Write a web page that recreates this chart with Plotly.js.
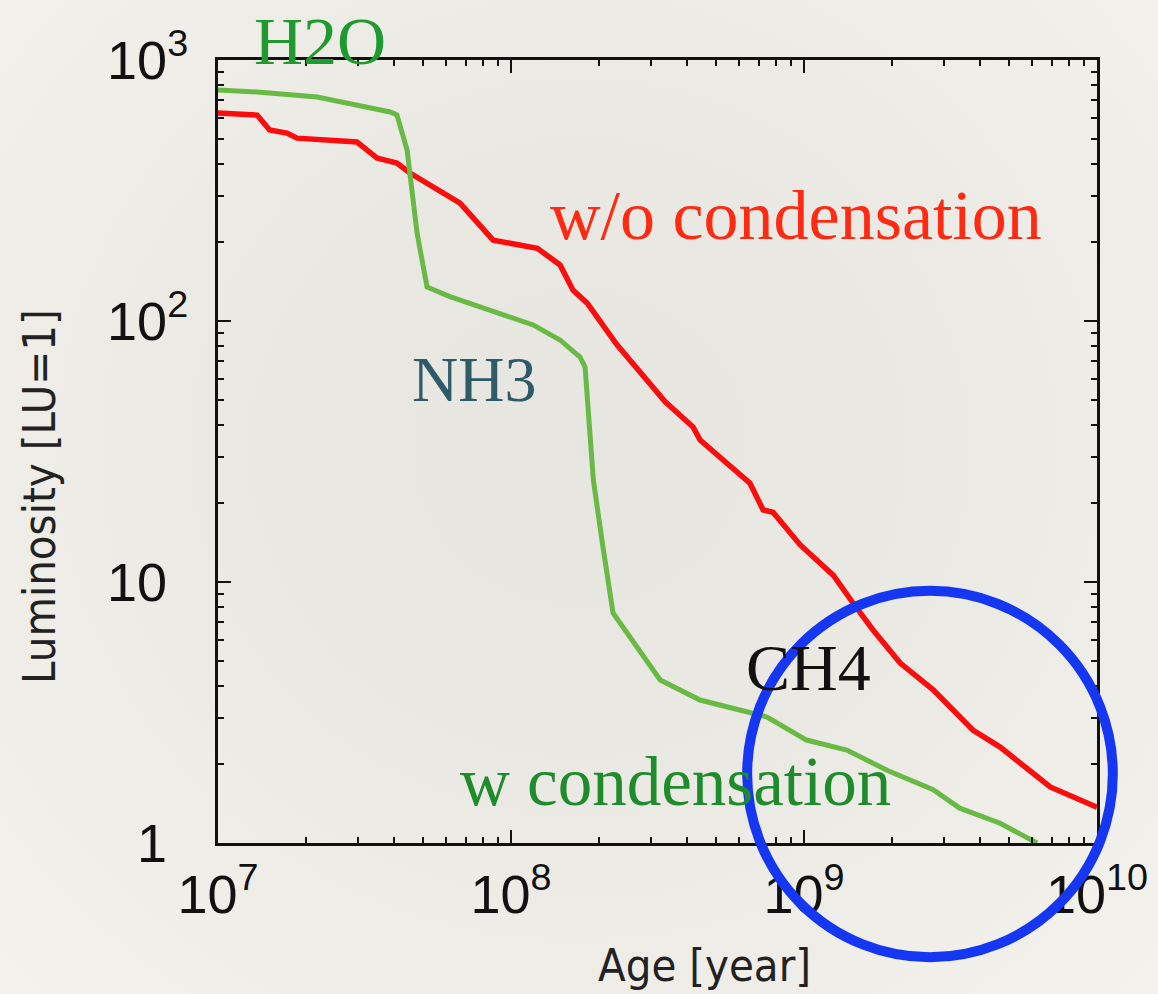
<!DOCTYPE html>
<html><head><meta charset="utf-8">
<script src="https://cdn.plot.ly/plotly-3.0.1.min.js"></script>
<style>
html,body{margin:0;padding:0;}
body{background:radial-gradient(ellipse at 50% 45%, #e7e5e0 0%, #ebe9e4 45%, #f4f2ec 100%);}
#chart{width:1158px;height:994px;}
</style>
</head><body><div id="chart"></div>
<script>
// Luminosity evolution without condensation (red)
const ageWithout = [1e7, 1.36e7, 1.50e7, 1.72e7, 1.86e7, 2.98e7, 3.49e7, 4.08e7, 4.52e7, 5.42e7, 6.70e7, 8.69e7, 1.23e8, 1.47e8, 1.63e8, 1.82e8, 2.30e8, 3.36e8, 4.18e8, 4.42e8, 6.54e8, 7.25e8, 7.84e8, 9.69e8, 1.26e9, 1.47e9, 1.72e9, 2.13e9, 2.76e9, 3.77e9, 4.67e9, 6.05e9, 6.92e9, 1e10];
const lumWithout = [627, 615, 539, 525, 502, 485, 421, 403, 369, 326, 283, 204, 190, 164, 131, 117, 81, 49, 39.3, 35, 23.9, 18.9, 18.5, 13.9, 10.6, 8.31, 6.55, 4.89, 3.86, 2.71, 2.33, 1.85, 1.64, 1.37];
// Luminosity evolution with condensation (green)
const ageWith = [1e7, 1.36e7, 2.18e7, 2.67e7, 3.87e7, 4.08e7, 4.42e7, 4.78e7, 5.17e7, 6.19e7, 9.17e7, 1.19e8, 1.47e8, 1.72e8, 1.79e8, 1.91e8, 2.06e8, 2.23e8, 3.23e8, 4.42e8, 7.48e8, 1.02e9, 1.40e9, 1.92e9, 2.76e9, 3.40e9, 4.67e9, 6.24e9];
const lumWith = [767, 754, 721, 690, 632, 616, 452, 217, 135, 124, 107, 96.6, 84.6, 72.8, 66.6, 24.6, 13.6, 7.61, 4.21, 3.53, 3.04, 2.48, 2.27, 1.90, 1.60, 1.36, 1.19, 1.0];

const xTickVals = [1e7, 1e8, 1e9, 1e10];
const xTickText = ['10<sup>7</sup>', '10<sup>8</sup>', '10<sup>9</sup>', '10<sup>10</sup>'];
const yTickVals = [1, 10, 100, 1000];
const yTickText = ['1<sup>\u2007</sup>', '10<sup>\u2007</sup>', '10<sup>2</sup>', '10<sup>3</sup>'];

const seriesNames = ['w/o condensation', 'w condensation'];
const labelTexts = ['H2O', 'w/o condensation', 'NH3', 'CH4', 'w condensation'];
const xTitle = 'Age [year]';
const yTitle = 'Luminosity [LU=1]';

const sansNarrow = '"Liberation Sans Narrow", "DejaVu Sans Condensed", "Liberation Sans", Arial, sans-serif';
const sans = '"Liberation Sans", Arial, sans-serif';
const serif = '"Liberation Serif", "DejaVu Serif", serif';

const traces = [
  {x: ageWithout, y: lumWithout, name: seriesNames[0], type: 'scatter', mode: 'lines',
   line: {color: '#fb0d0d', width: 5.5}},
  {x: ageWith, y: lumWith, name: seriesNames[1], type: 'scatter', mode: 'lines',
   line: {color: '#68ba45', width: 5}}
];

const axisCommon = {
  type: 'log', showline: true, linecolor: '#111', linewidth: 3, mirror: 'allticks',
  ticks: 'inside', ticklen: 13, tickwidth: 2.5, tickcolor: '#111',
  tickmode: 'array', showgrid: false, zeroline: false,
  tickfont: {family: sans, size: 54, color: '#111'},
  minor: {ticks: 'inside', ticklen: 6, tickwidth: 2, tickcolor: '#111', dtick: 'D1', showgrid: false}
};

function label(text, x, y, size, color) {
  return {text: text, xref: 'paper', yref: 'paper', x: x, y: y, xanchor: 'center', yanchor: 'middle',
          showarrow: false, font: {family: serif, size: size, color: color}};
}

const layout = {
  width: 1158, height: 994,
  margin: {l: 218, r: 61, t: 60, b: 151},
  paper_bgcolor: 'rgba(0,0,0,0)', plot_bgcolor: 'rgba(0,0,0,0)',
  showlegend: false,
  xaxis: Object.assign({}, axisCommon, {range: [7, 10], tickvals: xTickVals, ticktext: xTickText, ticklabelstandoff: 2}),
  yaxis: Object.assign({}, axisCommon, {range: [0, 3], tickvals: yTickVals, ticktext: yTickText, ticklabelstandoff: 16}),
  annotations: [
    label(labelTexts[0], 0.116, 1.024, 68, '#1f9a2e'),
    label(labelTexts[1], 0.658, 0.801, 70, '#ff2a12'),
    label(labelTexts[2], 0.291, 0.592, 64, '#2f5a68'),
    label(labelTexts[3], 0.672, 0.2235, 66, '#111'),
    label(labelTexts[4], 0.521, 0.078, 69, '#1e8c2a'),
    {text: yTitle, xref: 'paper', yref: 'paper', x: -0.2025, y: 0.442, xanchor: 'center', yanchor: 'middle',
     textangle: -90, showarrow: false, font: {family: sansNarrow, size: 45, color: '#222'}},
    {text: xTitle, xref: 'paper', yref: 'paper', x: 0.553, y: -0.156, xanchor: 'center', yanchor: 'middle',
     showarrow: false, font: {family: sansNarrow, size: 45, color: '#222'}}
  ],
  shapes: [
    {type: 'circle', xref: 'paper', yref: 'paper', x0: 0.602, x1: 1.018, y0: -0.146, y1: 0.322,
     line: {color: '#1637f2', width: 10}, layer: 'above'}
  ]
};

Plotly.newPlot('chart', traces, layout, {displayModeBar: false, staticPlot: true});
</script>
</body></html>
